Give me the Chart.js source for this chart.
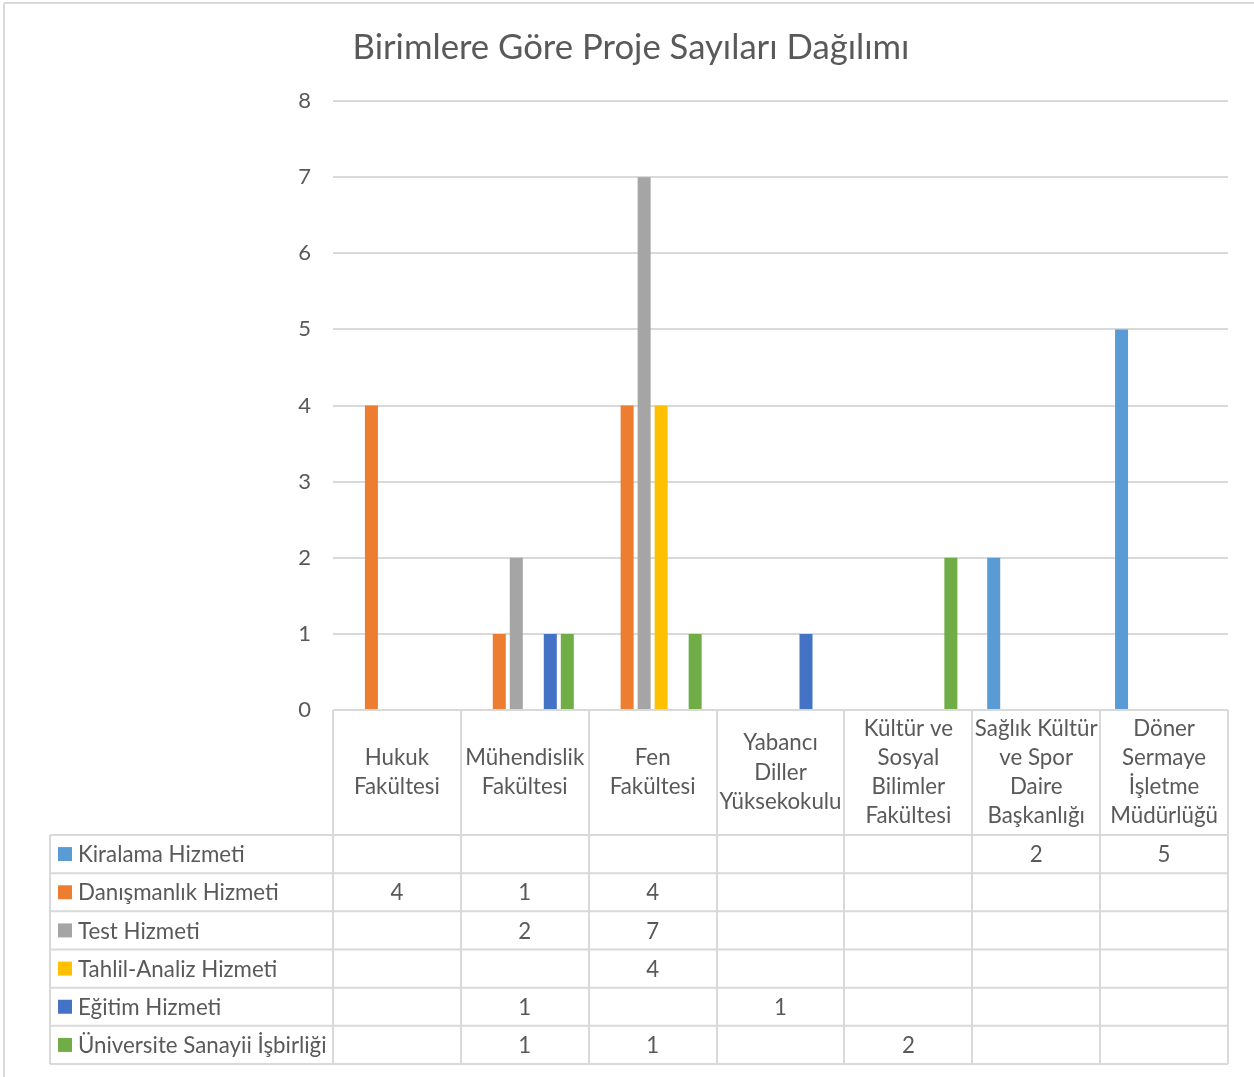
<!DOCTYPE html>
<html>
<head>
<meta charset="utf-8">
<script src="https://cdn.jsdelivr.net/npm/chart.js@4"></script>
<style>
html,body{margin:0;padding:0;background:#fff;}
#wrap{width:1254px;height:1077px;position:relative;}
</style>
</head>
<body>
<div id="wrap"><canvas id="c" width="1254" height="1077"></canvas></div>
<script>
const titleText = "Birimlere Göre Proje Sayıları Dağılımı";
const categories = [
  ["Hukuk", "Fakültesi"],
  ["Mühendislik", "Fakültesi"],
  ["Fen", "Fakültesi"],
  ["Yabancı", "Diller", "Yüksekokulu"],
  ["Kültür ve", "Sosyal", "Bilimler", "Fakültesi"],
  ["Sağlık Kültür", "ve Spor", "Daire", "Başkanlığı"],
  ["Döner", "Sermaye", "İşletme", "Müdürlüğü"]
];
const seriesNames = ["Kiralama Hizmeti", "Danışmanlık Hizmeti", "Test Hizmeti", "Tahlil-Analiz Hizmeti", "Eğitim Hizmeti", "Üniversite Sanayii İşbirliği"];
const kiralama    = [null, null, null, null, null, 2, 5];
const danismanlik = [4, 1, 4, null, null, null, null];
const test        = [null, 2, 7, null, null, null, null];
const tahlil      = [null, null, 4, null, null, null, null];
const egitim      = [null, 1, null, 1, null, null, null];
const usi         = [null, 1, 1, null, 2, null, null];
const yTicks = [0, 1, 2, 3, 4, 5, 6, 7, 8];
const seriesValues = [kiralama, danismanlik, test, tahlil, egitim, usi];
const colors = ["#5B9BD5", "#ED7D31", "#A5A5A5", "#FFC000", "#4472C4", "#70AD47"];

const FONT = 'Lato, "Open Sans", sans-serif';
const TXT = "#595959";
const GRID = "#D9D9D9";

const tablePlugin = {
  id: "dataTable",
  afterDraw(chart) {
    const ctx = chart.ctx;
    const xs = chart.scales.x;
    const area = chart.chartArea;
    const n = categories.length;
    const step = (area.right - area.left) / n;
    const bounds = [];
    for (let i = 0; i < n; i++) {
      const cx = xs.getPixelForValue(i);
      bounds.push(cx - step / 2);
    }
    bounds.push(area.right);
    const headTop = area.bottom;
    const headBottom = 835;
    const rowH = (1064 - headBottom) / seriesNames.length;
    const tableLeft = 50;
    const tableBottom = headBottom + rowH * seriesNames.length;

    ctx.save();
    ctx.strokeStyle = GRID;
    ctx.lineWidth = 2;
    ctx.beginPath();
    ctx.moveTo(4, 3); ctx.lineTo(1254, 3);
    ctx.moveTo(4, 3); ctx.lineTo(4, 1077);
    ctx.stroke();

    ctx.beginPath();
    ctx.moveTo(area.left, headTop); ctx.lineTo(area.right, headTop);
    for (let i = 0; i <= n; i++) {
      const x = Math.round(bounds[i]);
      ctx.moveTo(x, headTop); ctx.lineTo(x, tableBottom);
    }
    for (let r = 0; r <= seriesNames.length; r++) {
      const y = headBottom + r * rowH;
      ctx.moveTo(tableLeft, y); ctx.lineTo(area.right, y);
    }
    ctx.moveTo(tableLeft, headBottom); ctx.lineTo(tableLeft, tableBottom);
    ctx.stroke();

    ctx.fillStyle = TXT;
    ctx.font = "22.3px " + FONT;
    ctx.textAlign = "center";
    ctx.textBaseline = "middle";
    const lh = 29.2;
    const hc = (headTop + headBottom) / 2;
    for (let i = 0; i < n; i++) {
      const lines = categories[i];
      const cx = xs.getPixelForValue(i);
      const y0 = hc - (lines.length - 1) * lh / 2;
      lines.forEach((t, k) => ctx.fillText(t, cx, y0 + k * lh));
    }
    for (let r = 0; r < seriesNames.length; r++) {
      const yc = headBottom + r * rowH + rowH / 2;
      ctx.fillStyle = colors[r];
      ctx.fillRect(58, yc - 7, 14, 14);
      ctx.fillStyle = TXT;
      ctx.textAlign = "left";
      ctx.fillText(seriesNames[r], 78, yc + 1);
      ctx.textAlign = "center";
      for (let i = 0; i < n; i++) {
        const v = seriesValues[r][i];
        if (v !== null && v !== undefined) ctx.fillText(String(v), xs.getPixelForValue(i), yc + 1);
      }
    }
    ctx.font = "34.7px " + FONT;
    ctx.textAlign = "center";
    ctx.fillText(titleText, 631, 48);
    ctx.restore();
  }
};

new Chart(document.getElementById("c"), {
  type: "bar",
  data: {
    labels: categories,
    datasets: seriesNames.map((name, i) => ({
      label: name,
      data: seriesValues[i],
      backgroundColor: colors[i],
      borderWidth: 0,
      categoryPercentage: 0.798,
      barPercentage: 0.765
    }))
  },
  options: {
    responsive: false,
    animation: false,
    layout: { padding: { left: 0, right: 26, top: 101, bottom: 367 } },
    plugins: { legend: { display: false }, title: { display: false }, tooltip: { enabled: false } },
    scales: {
      x: { display: false },
      y: {
        min: 0, max: 8,
        afterFit(s) { s.width = 333; },
        afterBuildTicks(s) { s.ticks = yTicks.map(v => ({ value: v })); },
        border: { display: false },
        grid: { color: GRID, lineWidth: 2, drawTicks: false },
        ticks: { padding: 22, color: TXT, font: { family: FONT, size: 22 } }
      }
    }
  },
  plugins: [tablePlugin]
});
</script>
</body>
</html>
